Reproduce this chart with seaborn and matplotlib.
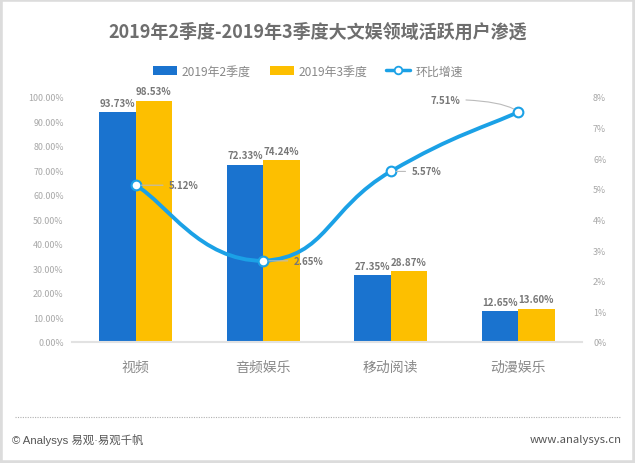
import matplotlib
matplotlib.use("Agg")
import matplotlib.pyplot as plt
import seaborn as sns
import numpy as np
import pandas as pd
from matplotlib.path import Path
from matplotlib.patches import PathPatch, Patch, Rectangle
from matplotlib.lines import Line2D

categories = ["视频", "音频娱乐", "移动阅读", "动漫娱乐"]
series_names = ["2019年2季度", "2019年3季度"]
q2_values = [93.73, 72.33, 27.35, 12.65]
q3_values = [98.53, 74.24, 28.87, 13.60]
growth_name = "环比增速"
growth_values = [5.12, 2.65, 5.57, 7.51]
left_ticks = [0, 10, 20, 30, 40, 50, 60, 70, 80, 90, 100]
right_ticks = [0, 1, 2, 3, 4, 5, 6, 7, 8]
title = "2019年2季度-2019年3季度大文娱领域活跃用户渗透"
footer_left = "© Analysys 易观·易观千帆"
footer_right = "www.analysys.cn"

BLUE = "#1a73cf"
YELLOW = "#fdbf00"
LINE = "#1ba1e6"
GRAY_T = "#6e6e6e"
GRAY_L = "#a8a8a8"

sns.set_theme(style="white")
plt.rcParams["font.family"] = ["Noto Sans CJK SC", "DejaVu Sans"]

df = pd.DataFrame({
    "cat": categories * 2,
    "val": q2_values + q3_values,
    "period": [series_names[0]] * 4 + [series_names[1]] * 4,
})

fig = plt.figure(figsize=(6.35, 4.64), dpi=100)
ax = fig.add_axes([72 / 635, 1 - 343 / 464, 510 / 635, 245 / 464])
sns.barplot(data=df, x="cat", y="val", hue="period", palette=[BLUE, YELLOW],
            width=0.57, gap=0, ax=ax, legend=False, saturation=1, linewidth=0,
            edgecolor="none")
ax.set_xlim(-0.5, 3.5)
ax.set_ylim(0, 100)
ax.set_yticks(left_ticks)
ax.set_yticklabels([f"{v:.2f}%" for v in left_ticks], color=GRAY_L, fontsize=6.4)
ax.set_xlabel("")
ax.set_ylabel("")
ax.tick_params(axis="x", length=0, pad=13, labelsize=10, labelcolor="#8a8a8a")
ax.tick_params(axis="y", length=0, pad=6)
for s in ["top", "right", "left"]:
    ax.spines[s].set_visible(False)
ax.spines["bottom"].set_color("#e2e2e2")
ax.spines["bottom"].set_linewidth(1.5)

for cont in ax.containers:
    for bar in cont:
        h = bar.get_height()
        ax.text(bar.get_x() + bar.get_width() / 2, h + 1.8, f"{h:.2f}%",
                ha="center", va="bottom", fontsize=7, fontweight="bold", color="#777777")

ax2 = ax.twinx()
ax2.set_ylim(0, 8)
ax2.set_yticks(right_ticks)
ax2.set_yticklabels([f"{v}%" for v in right_ticks], color=GRAY_L, fontsize=6.4)
ax2.tick_params(axis="y", length=0, pad=8)
for s in ["top", "right", "left", "bottom"]:
    ax2.spines[s].set_visible(False)
ax2.grid(False)
ax.grid(False)

# smooth curve through the growth points (cubic Bezier, control points from
# neighbours, clamped so the curve does not overshoot the points)
xs = np.arange(len(growth_values), dtype=float)
ys = np.array(growth_values, dtype=float)
pts = np.column_stack([xs, ys])
verts = [pts[0]]
codes = [Path.MOVETO]
k = 0.25
for i in range(len(pts) - 1):
    p0 = pts[i - 1] if i > 0 else pts[i]
    p1 = pts[i]
    p2 = pts[i + 1]
    p3 = pts[i + 2] if i + 2 < len(pts) else pts[i + 1]
    c1 = p1 + (p2 - p0) * k
    c2 = p2 - (p3 - p1) * k
    lo, hi = min(p1[1], p2[1]), max(p1[1], p2[1])
    c1[1] = np.clip(c1[1], lo, hi)
    c2[1] = np.clip(c2[1], lo, hi)
    verts += [c1, c2, p2]
    codes += [Path.CURVE4] * 3
ax2.add_patch(PathPatch(Path(verts, codes), fill=False, edgecolor=LINE, lw=2.8,
                        transform=ax2.transData, zorder=4, capstyle="round"))
ax2.plot(xs, ys, "o", ms=7, mfc="white", mec=LINE, mew=1.5, zorder=5, ls="none")

offsets = [(24, 0), (22, 0), (15, 0), (-42, 9)]
for i, v in enumerate(growth_values):
    ha = "left" if offsets[i][0] > 0 else "right"
    ax2.annotate(f"{v:.2f}%", xy=(xs[i], v), xytext=offsets[i], textcoords="offset points",
                 ha=ha, va="center", fontsize=7, fontweight="bold", color="#777777",
                 arrowprops=dict(arrowstyle="-", color="#bbbbbb", lw=0.8,
                                 shrinkA=2, shrinkB=4,
                                 connectionstyle="angle3,angleA=0,angleB=-40" if i == 3 else "arc3"),
                 zorder=6)

fig.text(0.5, 1 - 32 / 464, title, ha="center", va="center", fontsize=13,
         fontweight="bold", color=GRAY_T)

handles = [Patch(facecolor=BLUE, edgecolor="none"),
           Patch(facecolor=YELLOW, edgecolor="none"),
           Line2D([0], [0], color=LINE, lw=2.5, marker="o", ms=5.5, mfc="white", mec=LINE, mew=1.3)]
fig.legend(handles, series_names + [growth_name], loc="center", bbox_to_anchor=(0.485, 1 - 72 / 464),
           ncol=3, frameon=False, fontsize=8.6, handlelength=2.0, handleheight=0.75,
           columnspacing=1.6, handletextpad=0.4, labelcolor="#888888")

fig.add_artist(Line2D([15 / 635, 620 / 635], [1 - 418 / 464] * 2, transform=fig.transFigure,
                      color="#b0b0b0", lw=0.8, ls=(0, (1, 1.2))))
fig.text(12 / 635, 1 - 440 / 464, footer_left, ha="left", va="center", fontsize=8.2,
         color="#555555", family=["Liberation Sans", "Noto Sans CJK SC"])
fig.text(622 / 635, 1 - 440 / 464, footer_right, ha="right", va="center", fontsize=8.2,
         color="#555555")

fig.add_artist(Rectangle((0, 0), 1, 1, transform=fig.transFigure, fill=False,
                         edgecolor="#dcdcdc", lw=4))

fig.savefig("out.png", dpi=100)
